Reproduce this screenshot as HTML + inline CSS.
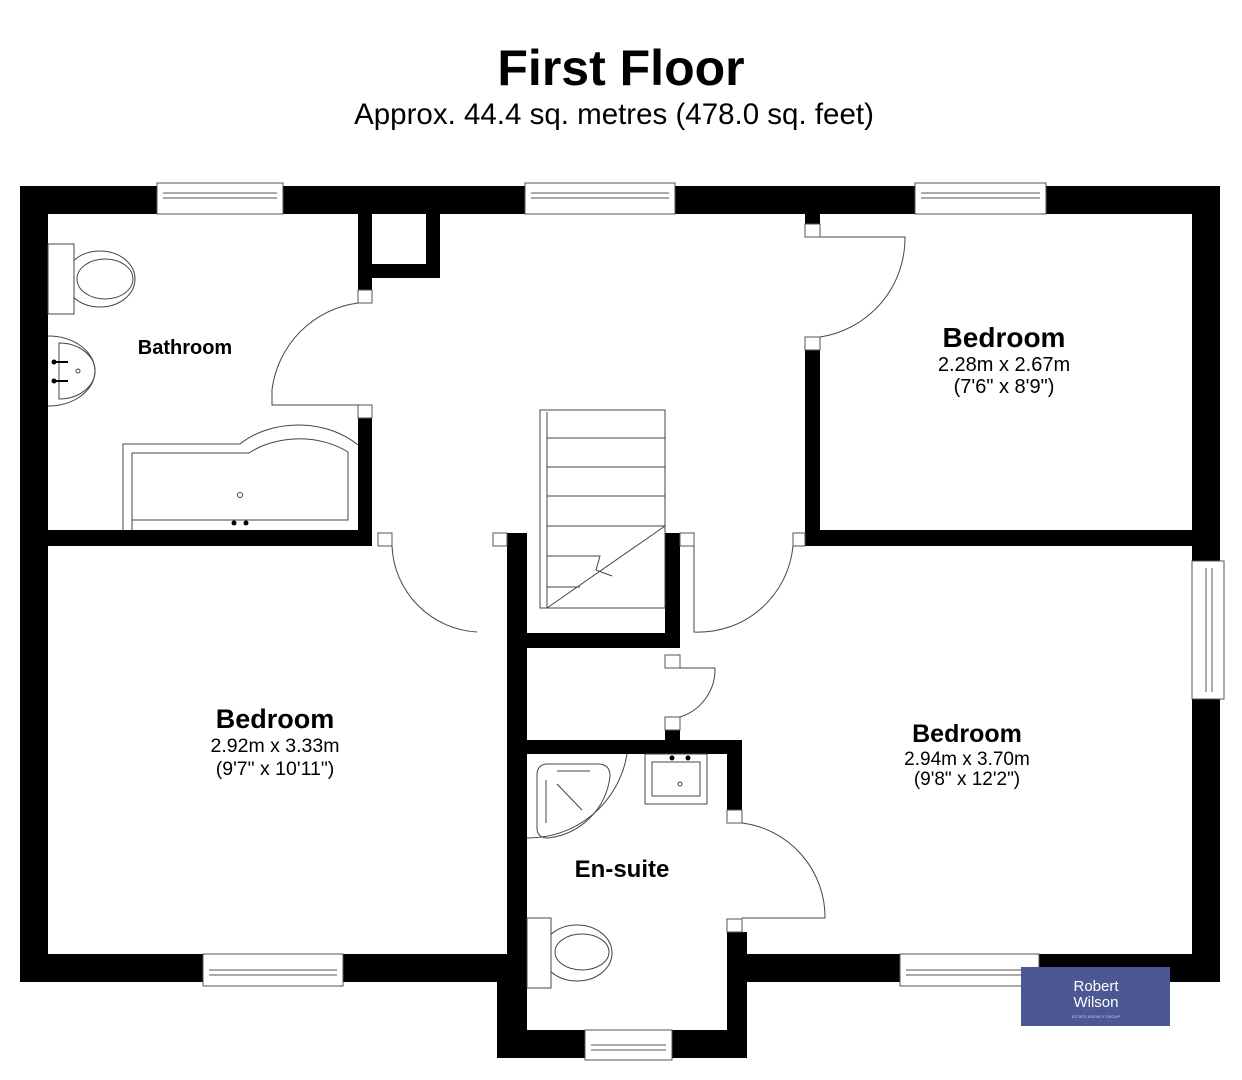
<!DOCTYPE html>
<html><head><meta charset="utf-8"><style>
html,body{margin:0;padding:0;background:#fff;}
svg{display:block}
text{font-family:"Liberation Sans",Arial,sans-serif}
</style></head><body>
<svg width="1242" height="1080" viewBox="0 0 1242 1080" xmlns="http://www.w3.org/2000/svg">
<text x="621" y="85" text-anchor="middle" font-size="50" font-weight="bold">First Floor</text>
<text x="614" y="124" text-anchor="middle" font-size="29.5">Approx. 44.4 sq. metres (478.0 sq. feet)</text>

<g fill="#000">
<rect x="20" y="186" width="1200" height="28"/>
<rect x="20" y="186" width="28" height="796"/>
<rect x="1192" y="186" width="28" height="796"/>
<rect x="20" y="954" width="507" height="28"/>
<rect x="727" y="954" width="493" height="28"/>
<rect x="497" y="954" width="30" height="104"/>
<rect x="727" y="932" width="20" height="126"/>
<rect x="497" y="1030" width="250" height="28"/>
<rect x="358" y="214" width="14" height="76"/>
<rect x="358" y="264" width="82" height="14"/>
<rect x="426" y="214" width="14" height="64"/>
<rect x="358" y="418" width="14" height="128"/>
<rect x="48" y="530" width="324" height="16"/>
<rect x="507" y="533" width="20" height="421"/>
<rect x="665" y="533" width="15" height="115"/>
<rect x="527" y="633" width="153" height="15"/>
<rect x="665" y="730" width="15" height="14"/>
<rect x="527" y="740" width="215" height="14"/>
<rect x="727" y="740" width="15" height="70"/>
<rect x="805" y="214" width="15" height="10"/>
<rect x="805" y="350" width="15" height="196"/>
<rect x="805" y="530" width="387" height="16"/>
</g>

<g fill="#fff" stroke="#555" stroke-width="1">
<rect x="157" y="183" width="126" height="31"/><line x1="163" y1="193" x2="277" y2="193"/><line x1="163" y1="198" x2="277" y2="198"/>
<rect x="525" y="183" width="150" height="31"/><line x1="531" y1="193" x2="669" y2="193"/><line x1="531" y1="198" x2="669" y2="198"/>
<rect x="915" y="183" width="131" height="31"/><line x1="921" y1="193" x2="1040" y2="193"/><line x1="921" y1="198" x2="1040" y2="198"/>
<rect x="1192" y="561" width="32" height="138"/><line x1="1206" y1="568" x2="1206" y2="692"/><line x1="1212" y1="568" x2="1212" y2="692"/>
<rect x="203" y="954" width="140" height="32"/><line x1="209" y1="970" x2="337" y2="970"/><line x1="209" y1="975" x2="337" y2="975"/>
<rect x="900" y="954" width="139" height="32"/><line x1="906" y1="970" x2="1033" y2="970"/><line x1="906" y1="975" x2="1033" y2="975"/>
<rect x="585" y="1030" width="87" height="30"/><line x1="591" y1="1045" x2="666" y2="1045"/><line x1="591" y1="1050" x2="666" y2="1050"/>
<rect x="358" y="290" width="14" height="13"/><rect x="358" y="405" width="14" height="13"/>
<rect x="805" y="224" width="15" height="13"/><rect x="805" y="337" width="15" height="13"/>
<rect x="378" y="533" width="14" height="13"/><rect x="493" y="533" width="14" height="13"/>
<rect x="680" y="533" width="14" height="13"/><rect x="793" y="533" width="12" height="13"/>
<rect x="665" y="655" width="15" height="13"/><rect x="665" y="717" width="15" height="13"/>
<rect x="727" y="810" width="15" height="13"/><rect x="727" y="919" width="15" height="13"/>
</g>

<g fill="none" stroke="#444" stroke-width="1">
<path d="M358 303 A100 100 0 0 0 272 390 L272 405 L358 405"/>
<path d="M820 237 L905 237 A100 100 0 0 1 820 337"/>
<path d="M392 546 A90 90 0 0 0 477 632"/>
<path d="M694 546 L694 632 A95 95 0 0 0 793 546"/>
<path d="M680 668 L715 668 A50 50 0 0 1 680 717"/>
<path d="M742 823 A95 95 0 0 1 825 918 L742 918"/>
<rect x="540" y="410" width="125" height="198"/>
<line x1="547" y1="412" x2="547" y2="608"/>
<line x1="547" y1="438" x2="665" y2="438"/><line x1="547" y1="467" x2="665" y2="467"/>
<line x1="547" y1="496" x2="665" y2="496"/><line x1="547" y1="526" x2="665" y2="526"/>
<path d="M547 608 L665 526 M547 556 L600 556 L596 570 L612 576 M547 587 L580 587"/>
<ellipse cx="100" cy="279" rx="35" ry="28" fill="#fff"/>
<ellipse cx="105" cy="279" rx="28" ry="20"/>
<rect x="48" y="244" width="26" height="70" fill="#fff"/>
<path d="M48 336 A47 35 0 0 1 48 406"/>
<path d="M59 343 L59 399 A36 28 0 0 0 59 343 Z"/>
<circle cx="78" cy="371" r="2"/>
<path d="M123 531 L123 444 L240 444 A80 60 0 0 1 358 445"/>
<path d="M132 530 L132 453 L249 453 A75 55 0 0 1 348 452 L348 520 L132 520"/>
<circle cx="240" cy="495" r="2.5"/>
<path d="M527 838 A100 100 0 0 0 627 754"/>
<path d="M537 775 Q537 764 548 764 L598 764 Q610 764 610 776 A70 70 0 0 1 548 838 Q537 838 537 828 Z"/>
<line x1="557" y1="771" x2="590" y2="771"/><line x1="546" y1="780" x2="546" y2="823"/><line x1="557" y1="784" x2="582" y2="810"/>
<rect x="645" y="754" width="62" height="50"/><rect x="652" y="762" width="48" height="34"/>
<circle cx="680" cy="784" r="2"/>
<ellipse cx="577" cy="953" rx="35" ry="28" fill="#fff"/>
<ellipse cx="582" cy="952" rx="27" ry="18"/>
<rect x="527" y="918" width="24" height="70" fill="#fff"/>
</g>
<g fill="#000">
<circle cx="54" cy="362" r="2.5"/><circle cx="54" cy="381" r="2.5"/>
<rect x="54" y="361" width="14" height="2"/><rect x="54" y="380" width="14" height="2"/>
<circle cx="234" cy="523" r="2.5"/><circle cx="246" cy="523" r="2.5"/>
<circle cx="672" cy="758" r="2.5"/><circle cx="688" cy="758" r="2.5"/>
</g>

<text x="185" y="354" text-anchor="middle" font-size="20" font-weight="bold">Bathroom</text>
<text x="1004" y="347" text-anchor="middle" font-size="28" font-weight="bold">Bedroom</text>
<text x="1004" y="371" text-anchor="middle" font-size="20">2.28m x 2.67m</text>
<text x="1004" y="393" text-anchor="middle" font-size="20">(7'6" x 8'9")</text>
<text x="275" y="728" text-anchor="middle" font-size="27" font-weight="bold">Bedroom</text>
<text x="275" y="752" text-anchor="middle" font-size="19.5">2.92m x 3.33m</text>
<text x="275" y="775" text-anchor="middle" font-size="19.5">(9'7" x 10'11")</text>
<text x="967" y="742" text-anchor="middle" font-size="25" font-weight="bold">Bedroom</text>
<text x="967" y="765" text-anchor="middle" font-size="19">2.94m x 3.70m</text>
<text x="967" y="785" text-anchor="middle" font-size="19">(9'8" x 12'2")</text>
<text x="622" y="877" text-anchor="middle" font-size="24" font-weight="bold">En-suite</text>

<rect x="1021" y="967" width="149" height="59" fill="#4b5893"/>
<text x="1096" y="991" text-anchor="middle" font-size="15" fill="#fff">Robert</text>
<text x="1096" y="1007" text-anchor="middle" font-size="15" fill="#fff">Wilson</text>
<text x="1096" y="1018" text-anchor="middle" font-size="4" fill="#ccd">ESTATE AGENCY GROUP</text>
</svg>
</body></html>
